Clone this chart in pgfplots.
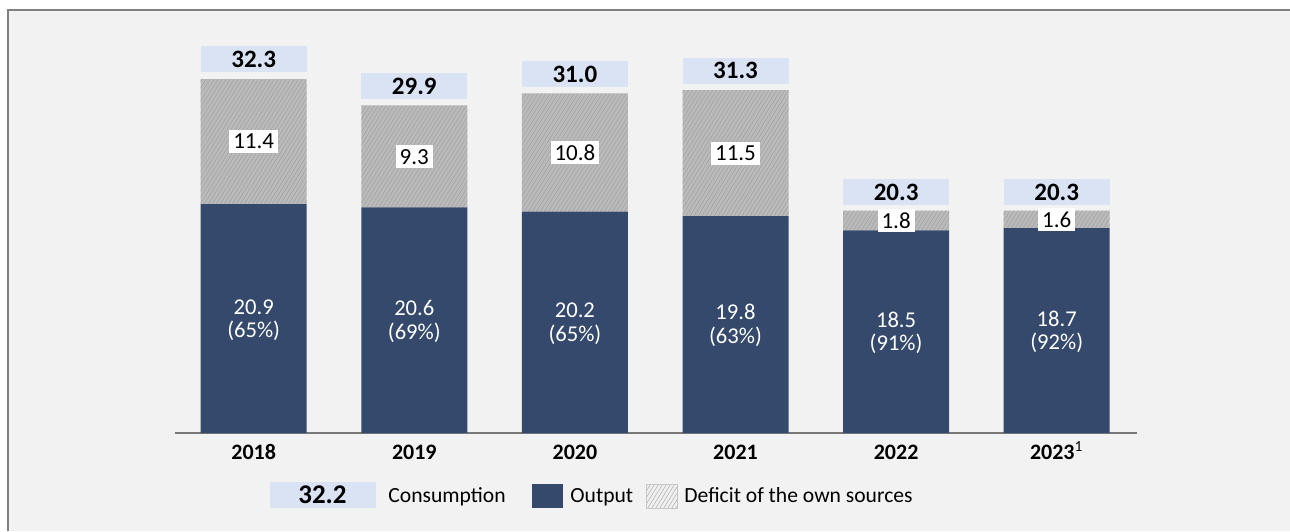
\documentclass[border=0pt]{standalone}
\usepackage{pgfplots}
\pgfplotsset{compat=1.18}
\usepackage{fontspec}
\setmainfont{Carlito}
\usetikzlibrary{patterns.meta}
\definecolor{navy}{RGB}{52,73,107}
\definecolor{consblue}{RGB}{218,227,243}
\definecolor{defgray}{RGB}{186,186,186}
\definecolor{hatch}{RGB}{158,158,158}
\definecolor{bggray}{RGB}{242,242,242}
\definecolor{axisgray}{RGB}{120,120,120}
\definecolor{framegray}{RGB}{128,128,128}
\tikzset{
 outlab/.style={text=white, align=center, font=\fontsize{11.3}{11.8}\selectfont},
 deflab/.style={fill=white, text=black, inner xsep=2pt, inner ysep=0pt, minimum height=11.5pt, font=\fontsize{11.5}{12}\selectfont},
 conslab/.style={fill=consblue, text=black, anchor=south, inner sep=0pt, minimum width=53pt, minimum height=13pt, font=\fontsize{12.5}{13}\selectfont\bfseries},
}
\begin{document}
\begin{tikzpicture}
\begin{scope}[x=0.5pt,y=0.5pt]
\fill[white] (0,0) rectangle (1290,531);
\fill[bggray] (7,0) rectangle (1290,521);
\draw[framegray, line width=1pt] (7.5,0) -- (7.5,520.5) -- (1290,520.5);
\end{scope}
\begin{axis}[
 at={(87.5pt,49pt)}, anchor=south west,
 scale only axis, width=481pt, height=197.2pt,
 ybar stacked, bar width=0.66,
 xmin=-0.49, xmax=5.5, ymin=0, ymax=36,
 axis x line*=bottom, hide y axis,
 x axis line style={draw=axisgray, line width=0.75pt},
 xtick={0,...,5},
 xticklabels={2018,2019,2020,2021,2022,{2023\textsuperscript{\mdseries 1}}},
 major tick length=0pt,
 xticklabel style={font=\fontsize{11}{13}\selectfont\bfseries, anchor=base, yshift=-13pt, text=black},
 clip=false,
 after end axis/.append code={
  \node[outlab] at (axis cs:0,10.3) {20.9\\(65\%)};
  \node[outlab] at (axis cs:1,10.2) {20.6\\(69\%)};
  \node[outlab] at (axis cs:2,10.0) {20.2\\(65\%)};
  \node[outlab] at (axis cs:3,9.8) {19.8\\(63\%)};
  \node[outlab] at (axis cs:4,9.15) {18.5\\(91\%)};
  \node[outlab] at (axis cs:5,9.25) {18.7\\(92\%)};
  \node[deflab] at (axis cs:0,26.6) {11.4};
  \node[deflab] at (axis cs:1,25.2) {9.3};
  \node[deflab] at (axis cs:2,25.6) {10.8};
  \node[deflab] at (axis cs:3,25.55) {11.5};
  \node[deflab] at (axis cs:4,19.4) {1.8};
  \node[deflab] at (axis cs:5,19.5) {1.6};
  \node[conslab] at (axis cs:0,32.9) {32.3};
  \node[conslab] at (axis cs:1,30.45) {29.9};
  \node[conslab] at (axis cs:2,31.55) {31.0};
  \node[conslab] at (axis cs:3,31.85) {31.3};
  \node[conslab] at (axis cs:4,20.75) {20.3};
  \node[conslab] at (axis cs:5,20.75) {20.3};
 },
]
\addplot[fill=navy, draw=none] coordinates {(0,20.9) (1,20.6) (2,20.2) (3,19.8) (4,18.5) (5,18.7)};
\addplot[fill=defgray, draw=none, postaction={pattern={Lines[angle=58,distance=1.7pt,line width=0.22pt]}, pattern color=hatch}] coordinates {(0,11.4) (1,9.3) (2,10.8) (3,11.5) (4,1.8) (5,1.6)};
\end{axis}
\begin{scope}[x=0.5pt,y=0.5pt]
\fill[consblue] (270,23) rectangle (376,49);
\node[font=\fontsize{13.5}{14}\selectfont\bfseries, inner sep=0pt] at (322.5,36) {32.2};
\node[font=\fontsize{10.8}{12}\selectfont, anchor=base west, inner sep=0pt] at (388,28.7) {Consumption};
\fill[navy] (532,23) rectangle (563,47);
\node[font=\fontsize{10.8}{12}\selectfont, anchor=base west, inner sep=0pt] at (570,28.7) {Output};
\fill[gray!12] (646,23) rectangle (677,47);
\path[pattern={Lines[angle=58,distance=1.7pt,line width=0.22pt]}, pattern color=gray!70] (646,23) rectangle (677,47);
\draw[gray!45, line width=0.3pt] (646,23) rectangle (677,47);
\node[font=\fontsize{10.8}{12}\selectfont, anchor=base west, inner sep=0pt] at (684,28.7) {Deficit of the own sources};
\end{scope}
\pgfresetboundingbox
\path[use as bounding box] (0,0) rectangle (645pt,265.5pt);
\end{tikzpicture}
\end{document}
